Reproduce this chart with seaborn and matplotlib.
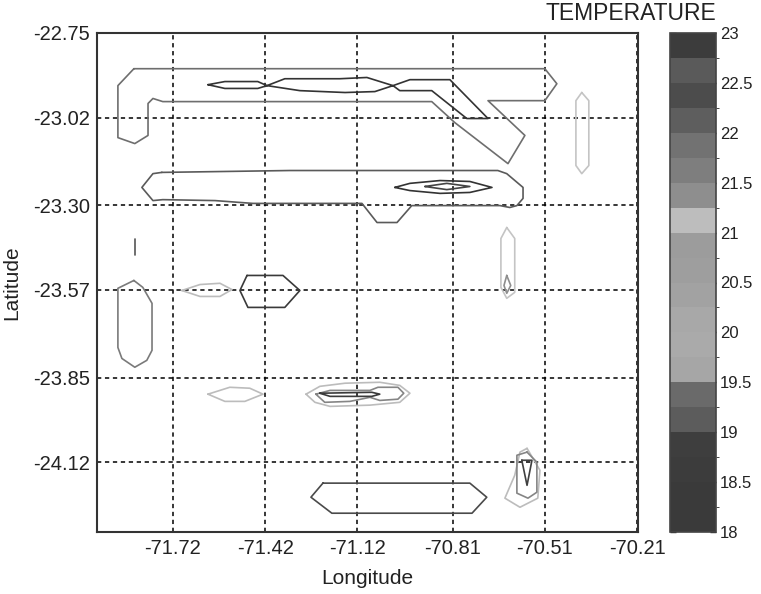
import numpy as np
import pandas as pd
import matplotlib
matplotlib.use("Agg")
import matplotlib.pyplot as plt
from matplotlib.colors import ListedColormap, BoundaryNorm
from matplotlib.cm import ScalarMappable
import seaborn as sns

# ---------------- data ----------------
lon_ticks = [-71.72, -71.42, -71.12, -70.81, -70.51, -70.21]
lat_ticks = [-22.75, -23.02, -23.30, -23.57, -23.85, -24.12]
lon_range = [-71.967, -70.207]
lat_range = [-24.343, -22.752]

# colour-bar levels and temperature ticks
cbar_levels = [18.0, 18.25, 18.5, 18.75, 19.0, 19.25, 19.5, 19.75, 20.0, 20.25, 20.5,
               20.75, 21.0, 21.25, 21.5, 21.75, 22.0, 22.25, 22.5, 22.75, 23.0]
cbar_ticks = [18, 18.5, 19, 19.5, 20, 20.5, 21, 21.5, 22, 22.5, 23]

# contour lines (lon, lat vertices)
north_outer_lon = [-71.847, -70.510, -70.471, -70.510, -70.695, -70.575, -70.630, -70.803,
                   -70.878, -71.753, -71.785, -71.801, -71.801, -71.844, -71.899, -71.899, -71.847]
north_outer_lat = [-22.864, -22.864, -22.912, -22.966, -22.966, -23.077, -23.167, -23.036,
                   -22.969, -22.969, -22.959, -22.975, -23.077, -23.103, -23.084, -22.918, -22.864]

north_inner_lon = [-71.606, -71.551, -71.444, -71.414, -71.356, -71.177, -71.089, -71.004,
                   -70.949, -70.819, -70.695, -70.764, -70.878, -70.982, -71.004, -71.063,
                   -71.160, -71.307, -71.414, -71.444, -71.551, -71.606]
north_inner_lat = [-22.915, -22.905, -22.905, -22.918, -22.896, -22.896, -22.892, -22.918,
                   -22.899, -22.899, -23.023, -23.023, -22.934, -22.934, -22.918, -22.937,
                   -22.940, -22.934, -22.918, -22.927, -22.927, -22.915]

mid_outer_lon = [-71.756, -71.785, -71.821, -71.785, -71.753, -71.583, -71.460, -71.105,
                 -71.056, -70.991, -70.943, -70.656, -70.624, -70.601, -70.581, -70.581,
                 -70.634, -70.663, -71.339, -71.756]
mid_outer_lat = [-23.195, -23.199, -23.243, -23.285, -23.282, -23.285, -23.294, -23.294,
                 -23.355, -23.355, -23.301, -23.301, -23.307, -23.301, -23.278, -23.243,
                 -23.199, -23.189, -23.189, -23.195]

mid_lens_lon = [-70.998, -70.949, -70.851, -70.754, -70.682, -70.754, -70.851, -70.949, -70.998]
mid_lens_lat = [-23.243, -23.230, -23.221, -23.224, -23.243, -23.259, -23.262, -23.253, -23.243]

mid_core_lon = [-70.900, -70.829, -70.754, -70.829, -70.900]
mid_core_lat = [-23.240, -23.230, -23.240, -23.250, -23.240]

west_dash_lon = [-71.844, -71.844]
west_dash_lat = [-23.409, -23.460]

east_band_lon = [-70.390, -70.367, -70.367, -70.390, -70.409, -70.409, -70.390]
east_band_lat = [-22.940, -22.966, -23.173, -23.199, -23.173, -22.966, -22.940]

sw_oval_lon = [-71.847, -71.818, -71.788, -71.788, -71.805, -71.844, -71.886, -71.899, -71.899, -71.847]
sw_oval_lat = [-23.540, -23.562, -23.613, -23.763, -23.795, -23.817, -23.789, -23.754, -23.565, -23.540]

lens_a_lon = [-71.691, -71.632, -71.567, -71.528, -71.567, -71.632, -71.691]
lens_a_lat = [-23.572, -23.553, -23.549, -23.569, -23.591, -23.591, -23.572]

hex_lon = [-71.479, -71.362, -71.307, -71.356, -71.476, -71.502, -71.479]
hex_lat = [-23.524, -23.524, -23.572, -23.626, -23.626, -23.572, -23.524]

east_mid_lon = [-70.634, -70.608, -70.608, -70.634, -70.653, -70.653, -70.634]
east_mid_lat = [-23.371, -23.406, -23.578, -23.597, -23.562, -23.406, -23.371]

east_core_lon = [-70.634, -70.621, -70.634, -70.643, -70.634]
east_core_lat = [-23.524, -23.556, -23.581, -23.556, -23.524]

lens_b_lon = [-71.606, -71.535, -71.470, -71.427, -71.486, -71.551, -71.606]
lens_b_lat = [-23.903, -23.881, -23.884, -23.903, -23.926, -23.926, -23.903]

cluster_out_lon = [-71.287, -71.242, -71.160, -71.047, -70.982, -70.949, -70.982, -71.079,
                   -71.209, -71.258, -71.287]
cluster_out_lat = [-23.903, -23.878, -23.868, -23.865, -23.875, -23.900, -23.929, -23.938,
                   -23.942, -23.929, -23.903]

cluster_mid_lon = [-71.255, -71.209, -71.079, -71.053, -70.988, -70.969, -70.988, -71.047,
                   -71.079, -71.144, -71.226, -71.255]
cluster_mid_lat = [-23.903, -23.891, -23.891, -23.881, -23.881, -23.900, -23.919, -23.923,
                   -23.913, -23.926, -23.929, -23.903]

cluster_in_lon = [-71.242, -71.073, -71.047, -71.073, -71.209, -71.242]
cluster_in_lat = [-23.900, -23.897, -23.903, -23.910, -23.910, -23.900]

south_hex_lon = [-71.232, -70.754, -70.699, -70.747, -71.203, -71.271, -71.232]
south_hex_lat = [-24.187, -24.187, -24.232, -24.283, -24.283, -24.232, -24.187]

se_out_lon = [-70.568, -70.526, -70.533, -70.591, -70.640, -70.608, -70.591, -70.568]
se_out_lat = [-24.076, -24.146, -24.235, -24.264, -24.235, -24.162, -24.088, -24.076]

se_mid_lon = [-70.568, -70.536, -70.536, -70.565, -70.601, -70.601, -70.568]
se_mid_lat = [-24.088, -24.120, -24.216, -24.235, -24.219, -24.098, -24.088]

se_in_lon = [-70.585, -70.552, -70.568, -70.585]
se_in_lat = [-24.114, -24.114, -24.194, -24.114]

paths = {
    "north_outer": (north_outer_lon, north_outer_lat),
    "north_inner": (north_inner_lon, north_inner_lat),
    "mid_outer": (mid_outer_lon, mid_outer_lat),
    "mid_lens": (mid_lens_lon, mid_lens_lat),
    "mid_core": (mid_core_lon, mid_core_lat),
    "west_dash": (west_dash_lon, west_dash_lat),
    "east_band": (east_band_lon, east_band_lat),
    "sw_oval": (sw_oval_lon, sw_oval_lat),
    "lens_a": (lens_a_lon, lens_a_lat),
    "hex": (hex_lon, hex_lat),
    "east_mid": (east_mid_lon, east_mid_lat),
    "east_core": (east_core_lon, east_core_lat),
    "lens_b": (lens_b_lon, lens_b_lat),
    "cluster_out": (cluster_out_lon, cluster_out_lat),
    "cluster_mid": (cluster_mid_lon, cluster_mid_lat),
    "cluster_in": (cluster_in_lon, cluster_in_lat),
    "south_hex": (south_hex_lon, south_hex_lat),
    "se_out": (se_out_lon, se_out_lat),
    "se_mid": (se_mid_lon, se_mid_lat),
    "se_in": (se_in_lon, se_in_lat),
}

# ---------------- styles ----------------
band_colors = ["#3a3a3a", "#3a3a3a", "#3c3c3c", "#3e3e3e", "#5c5c5c", "#6a6a6a",
               "#a6a6a6", "#aaaaaa", "#a8a8a8", "#a2a2a2", "#9e9e9e", "#9c9c9c",
               "#bdbdbd", "#8e8e8e", "#7e7e7e", "#727272", "#5e5e5e", "#4c4c4c",
               "#5a5a5a", "#3c3c3c"]
line_colors = {
    "north_outer": "#6e6e6e", "north_inner": "#333333", "mid_outer": "#5a5a5a",
    "mid_lens": "#333333", "mid_core": "#444444", "west_dash": "#555555",
    "east_band": "#c4c4c4", "sw_oval": "#7a7a7a", "lens_a": "#bcbcbc",
    "hex": "#3a3a3a", "east_mid": "#c4c4c4", "east_core": "#8e8e8e",
    "lens_b": "#bcbcbc", "cluster_out": "#bcbcbc", "cluster_mid": "#858585",
    "cluster_in": "#3a3a3a", "south_hex": "#4a4a4a", "se_out": "#bcbcbc",
    "se_mid": "#858585", "se_in": "#404040",
}

sns.set_style("white")
plt.rcParams["font.family"] = ["Liberation Sans", "DejaVu Sans"]

rows = []
for name, (lo, la) in paths.items():
    for i, (a, b) in enumerate(zip(lo, la)):
        rows.append({"path": name, "order": i, "lon": a, "lat": b})
df = pd.DataFrame(rows)

W, H = 761, 594
fig = plt.figure(figsize=(W / 100, H / 100), dpi=100)
ax = fig.add_axes([97 / W, 1 - 532 / H, (638 - 97) / W, (532 - 33) / H])
cax = fig.add_axes([670 / W, 1 - 532 / H, 46 / W, (532 - 33) / H])

ax.set_axisbelow(True)
ax.grid(True, color="black", linestyle=(0, (2.8, 2.4)), linewidth=1.1)

sns.lineplot(data=df, x="lon", y="lat", hue="path", units="path", estimator=None,
             sort=False, palette=line_colors, legend=False, linewidth=1.2, ax=ax, zorder=3)

ax.set_xlim(lon_range)
ax.set_ylim(lat_range)
ax.set_xticks(lon_ticks)
ax.set_yticks(lat_ticks)
ax.set_xticklabels([f"{v:.2f}" for v in lon_ticks])
ax.set_yticklabels([f"{v:.2f}" for v in lat_ticks])
ax.tick_params(axis="both", direction="in", length=4, width=1.0, color="black",
               labelsize=14.5, labelcolor="#222222", pad=5)
for s in ax.spines.values():
    s.set_visible(True)
    s.set_color("#333333")
    s.set_linewidth(1.5)

ax.set_xlabel("Longitude", fontsize=15, color="#222222")
ax.set_ylabel("Latitude", fontsize=15, color="#222222")
ax.xaxis.set_label_coords(0.5, (532 - 569) / 499)
ax.yaxis.set_label_coords((21 - 97) / 541, 0.5)

# colour bar
cmap = ListedColormap(band_colors)
norm = BoundaryNorm(cbar_levels, cmap.N)
sm = ScalarMappable(norm=norm, cmap=cmap)
cb = fig.colorbar(sm, cax=cax, boundaries=cbar_levels, ticks=cbar_ticks)
cb.ax.set_yticklabels([f"{v:g}" for v in cbar_ticks])
cb.ax.tick_params(direction="in", length=4, width=1.0, left=True, right=True,
                  labelsize=12, labelcolor="#222222", pad=3)
cb.outline.set_edgecolor("#444444")
cb.outline.set_linewidth(1.2)

fig.text(716 / W, 1 - 14 / H, "TEMPERATURE", ha="right", va="center",
         fontsize=16.5, color="#222222")

fig.savefig("out.png", dpi=100, facecolor="white")
